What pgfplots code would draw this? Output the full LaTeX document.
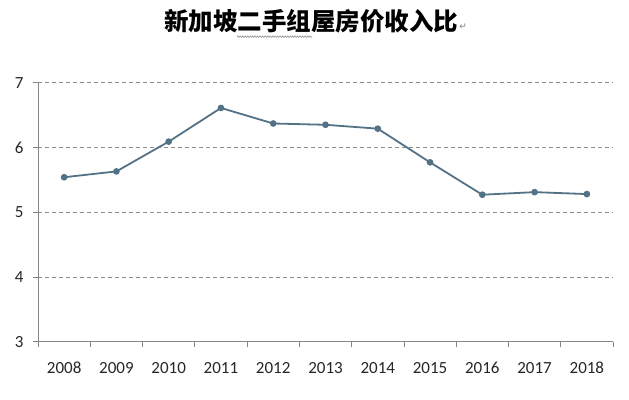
\documentclass[border=0pt]{standalone}
\usepackage{fontspec}
\setmainfont{Carlito}
\newfontfamily\cjk{Noto Sans CJK SC}
\newfontfamily\dejavu{DejaVu Sans}
\usepackage{pgfplots}
\pgfplotsset{compat=1.18}
\usetikzlibrary{decorations.pathmorphing}
\definecolor{linec}{RGB}{84,114,134}
\definecolor{axisc}{RGB}{134,134,134}
\definecolor{gridc}{RGB}{140,140,140}
\begin{document}
\begin{tikzpicture}
\path[use as bounding box] (-38pt,-57.3pt) rectangle (591pt,341.7pt);
\begin{axis}[
  at={(0pt,0pt)}, anchor=south west,
  scale only axis, width=575pt, height=259pt,
  xmin=-0.5, xmax=10.5, ymin=3, ymax=7,
  axis x line=bottom, axis y line=left,
  axis line style={axisc, line width=0.8pt, -},
  xtick={0,...,10},
  xticklabels={2008,2009,2010,2011,2012,2013,2014,2015,2016,2017,2018},
  minor xtick={-0.5,0.5,...,10.5},
  major x tick style={draw=none},
  minor x tick style={axisc, line width=0.8pt},
  minor tick length=5pt,
  ytick={3,4,5,6,7},
  major y tick style={axisc, line width=0.8pt},
  major tick length=5pt,
  tick align=outside,
  ymajorgrids,
  major grid style={gridc, line width=0.6pt, dash pattern=on 4pt off 3pt},
  tick label style={font=\fontsize{17}{19}\selectfont, black!85},
  /pgf/number format/assume math mode=true,
  xticklabel style={yshift=-12pt},
  yticklabel style={xshift=-6pt},
  clip=false,
]
\addplot[linec, line width=1.8pt, mark=*, mark size=2.4pt, mark options={fill=linec, draw=linec}]
coordinates {(0,5.54) (1,5.63) (2,6.09) (3,6.61) (4,6.37) (5,6.35) (6,6.29) (7,5.77) (8,5.27) (9,5.31) (10,5.28)};
\end{axis}
\node[font=\cjk\bfseries\fontsize{24.5}{26}\selectfont, inner sep=0pt] (t) at (273pt,320pt) {新加坡二手组屋房价收入比};
\node[font=\dejavu\fontsize{9}{10}\selectfont, gray, anchor=south west, inner sep=0pt] at ([xshift=1pt,yshift=1pt]t.base east) {↵};
\draw[gray, line width=0.5pt, decorate, decoration={zigzag, amplitude=0.8pt, segment length=2.5pt}] (237pt-38pt,305pt) -- (312pt-38pt,305pt);
\end{tikzpicture}
\end{document}
